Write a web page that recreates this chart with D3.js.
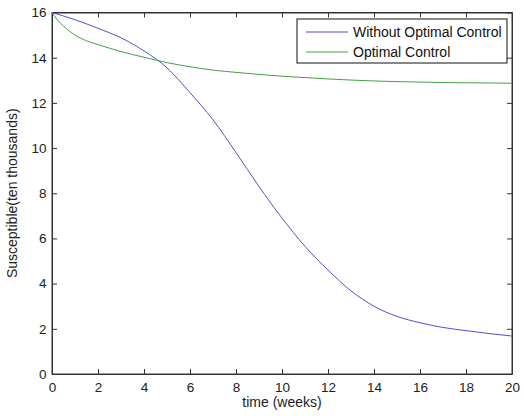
<!DOCTYPE html>
<html>
<head>
<meta charset="utf-8">
<script src="https://cdn.jsdelivr.net/npm/d3@7"></script>
<style>
  body { margin: 0; background: #fff; }
  svg { display: block; font-family: "Liberation Sans", Arial, sans-serif; }
  .axis path, .axis line { stroke: #333; }
  .axis text { font-size: 13.5px; fill: #222; }
</style>
</head>
<body>
<div class="chart"></div>
<script>
// weeks and values
let weeksNoCtrl = [0, 1, 2, 3, 4, 5, 6, 7, 8, 9, 10, 11, 12, 13, 14, 15, 16, 17, 18, 19, 20];
let noCtrl = [16, 15.68, 15.3, 14.88, 14.3, 13.55, 12.45, 11.25, 9.8, 8.3, 6.9, 5.65, 4.6, 3.68, 3.0, 2.55, 2.27, 2.06, 1.92, 1.79, 1.68];

let weeksCtrl = [0, 0.25, 0.5, 1, 1.5, 2, 3, 4, 5, 6, 7, 8, 9, 10, 11, 12, 13, 14, 15, 16, 17, 18, 19, 20];
let ctrl = [16, 15.65, 15.4, 15.0, 14.75, 14.58, 14.27, 14.02, 13.78, 13.6, 13.45, 13.35, 13.26, 13.18, 13.12, 13.06, 13.01, 12.97, 12.94, 12.92, 12.9, 12.89, 12.88, 12.87];

let xTicks = [0, 2, 4, 6, 8, 10, 12, 14, 16, 18, 20];
let yTicks = [0, 2, 4, 6, 8, 10, 12, 14, 16];
let seriesNames = ["Without Optimal Control", "Optimal Control"];
let seriesColors = ["#5050d0", "#44a044"];

let margin = { top: 12.5, right: 12, bottom: 42, left: 52 },
    width = 524 - margin.left - margin.right,
    height = 416 - margin.top - margin.bottom;

let svg = d3.select(".chart")
    .append("svg")
    .attr("width", 524)
    .attr("height", 416)
    .append("g")
    .attr("transform", "translate(" + margin.left + "," + margin.top + ")");

let x = d3.scaleLinear().domain([0, 20]).range([0, width]);
let y = d3.scaleLinear().domain([0, 16]).range([height, 0]);

// box
svg.append("rect")
    .attr("width", width)
    .attr("height", height)
    .attr("fill", "none")
    .attr("stroke", "#333");

svg.append("g").attr("class", "axis")
    .attr("transform", "translate(0," + height + ")")
    .call(d3.axisBottom(x).tickValues(xTicks).tickSize(-5).tickSizeOuter(0).tickPadding(8));

svg.append("g").attr("class", "axis")
    .call(d3.axisLeft(y).tickValues(yTicks).tickSize(-5).tickSizeOuter(0).tickPadding(5.5));

svg.append("g").attr("class", "axis")
    .call(d3.axisTop(x).tickValues(xTicks).tickSize(-5).tickSizeOuter(0).tickFormat(""));

svg.append("g").attr("class", "axis")
    .attr("transform", "translate(" + width + ",0)")
    .call(d3.axisRight(y).tickValues(yTicks).tickSize(-5).tickSizeOuter(0).tickFormat(""));

// axis titles
svg.append("text")
    .attr("x", width / 2)
    .attr("y", height + 33)
    .attr("text-anchor", "middle")
    .attr("font-size", 14)
    .attr("fill", "#222")
    .text("time (weeks)");

svg.append("text")
    .attr("transform", "translate(" + (-35) + "," + (height / 2) + ") rotate(-90)")
    .attr("text-anchor", "middle")
    .attr("font-size", 14)
    .attr("fill", "#222")
    .text("Susceptible(ten thousands)");

let line = d3.line()
    .x(d => x(d[0]))
    .y(d => y(d[1]))
    .curve(d3.curveMonotoneX);

let series = [
  d3.zip(weeksNoCtrl, noCtrl),
  d3.zip(weeksCtrl, ctrl)
];

svg.selectAll(".series")
    .data(series)
    .enter()
    .append("path")
    .attr("class", "series")
    .attr("fill", "none")
    .attr("stroke", (d, i) => seriesColors[i])
    .attr("stroke-width", 1)
    .attr("d", line);

// legend
let legend = svg.append("g").attr("transform", "translate(245,6.5)");
legend.append("rect")
    .attr("width", 210)
    .attr("height", 44)
    .attr("fill", "#fff")
    .attr("stroke", "#111");

seriesNames.forEach((name, i) => {
  let g = legend.append("g").attr("transform", "translate(0," + (13 + i * 20) + ")");
  g.append("line")
      .attr("x1", 9).attr("x2", 51)
      .attr("stroke", seriesColors[i]);
  g.append("text")
      .attr("x", 56)
      .attr("dy", "0.35em")
      .attr("font-size", 14)
      .attr("fill", "#111")
      .text(name);
});
</script>
</body>
</html>
